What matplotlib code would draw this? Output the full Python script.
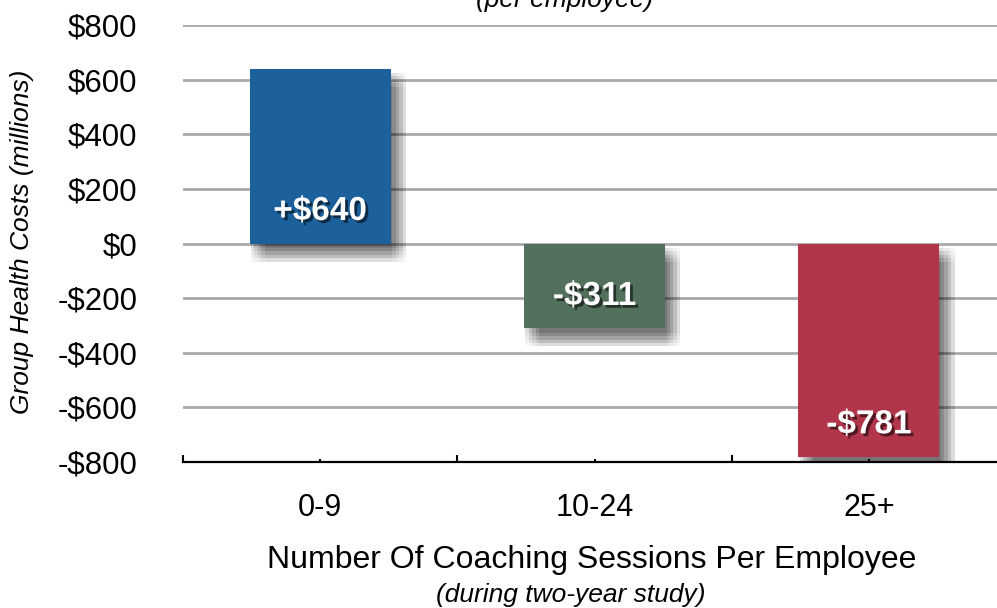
import numpy as np
import matplotlib
matplotlib.use('Agg')
import matplotlib.pyplot as plt
import matplotlib.patheffects as pe
from matplotlib.ticker import FuncFormatter, FixedLocator

#==========================================================
# data
#==========================================================
categories = ['0-9', '10-24', '25+']
values = [640, -311, -781]
bar_text = ['+$640', '-$311', '-$781']
bar_colors = ['#1c609c', '#52705b', '#b2364b']
yticks = np.arange(-800, 801, 200)

#==========================================================
# plot
#==========================================================
plt.rcParams['font.family'] = ['Liberation Sans', 'DejaVu Sans']

fig = plt.figure(figsize=(9.97, 6.08), dpi=100)
ax = fig.add_axes([183/997, 1-462/608, 823/997, (462-25)/608])

x = np.arange(len(categories))

# soft drop shadow: a grid of faint offset copies mimics a blur
shadow = []
for dx in (1, 3.5, 6, 8.5, 11):
    for dy in (3, 5.5, 8, 10.5, 13):
        shadow.append(pe.SimplePatchShadow(offset=(dx, -dy), shadow_rgbFace='k', alpha=0.028))
shadow.append(pe.Normal())

bars = ax.bar(x, values, width=0.515, color=bar_colors, zorder=3)
for b in bars:
    b.set_path_effects(shadow)

for i in range(len(values)):
    ypos = min(values[i], 0) + 117
    ax.text(x[i], ypos, bar_text[i], color='white', fontsize=24, weight='bold',
            ha='center', va='center', zorder=5,
            path_effects=[pe.withSimplePatchShadow(offset=(2, -2), shadow_rgbFace='k', alpha=0.55)])

ax.set_xlim(-0.5, 2.5)
ax.set_ylim(-800, 800)
ax.set_yticks(yticks)
ax.yaxis.set_major_formatter(FuncFormatter(lambda v, p: ('-$%d' % abs(v)) if v < 0 else '$%d' % v))
ax.yaxis.grid(True, color='#a9a9a9', linewidth=2.0, zorder=0)
ax.set_axisbelow(True)

ax.set_xticks(x)
ax.set_xticklabels(categories)
ax.xaxis.set_minor_locator(FixedLocator([-0.5, 0.5, 1.5, 2.5]))
ax.tick_params(axis='x', which='major', direction='in', length=2.5, width=1.5, labelsize=22, pad=22)
ax.tick_params(axis='x', which='minor', direction='in', length=5, width=1.5)
ax.tick_params(axis='y', length=0, labelsize=22.5, pad=33)

for s in ['top', 'right', 'left']:
    ax.spines[s].set_visible(False)
ax.spines['bottom'].set_linewidth(1.6)
ax.spines['bottom'].set_zorder(4)

fig.text(22/997, 1-242/608, 'Group Health Costs (millions)', rotation=90, style='italic',
         fontsize=19, ha='center', va='center')
fig.text(592/997, 1-560/608, 'Number Of Coaching Sessions Per Employee', fontsize=23,
         ha='center', va='center')
fig.text(571/997, 1-595/608, '(during two-year study)', fontsize=19, style='italic',
         ha='center', va='center')
fig.text(565/997, 1-7/608, '(per employee)', fontsize=19, style='italic',
         ha='center', va='baseline')

plt.savefig('out.png', dpi=100)
plt.close()
